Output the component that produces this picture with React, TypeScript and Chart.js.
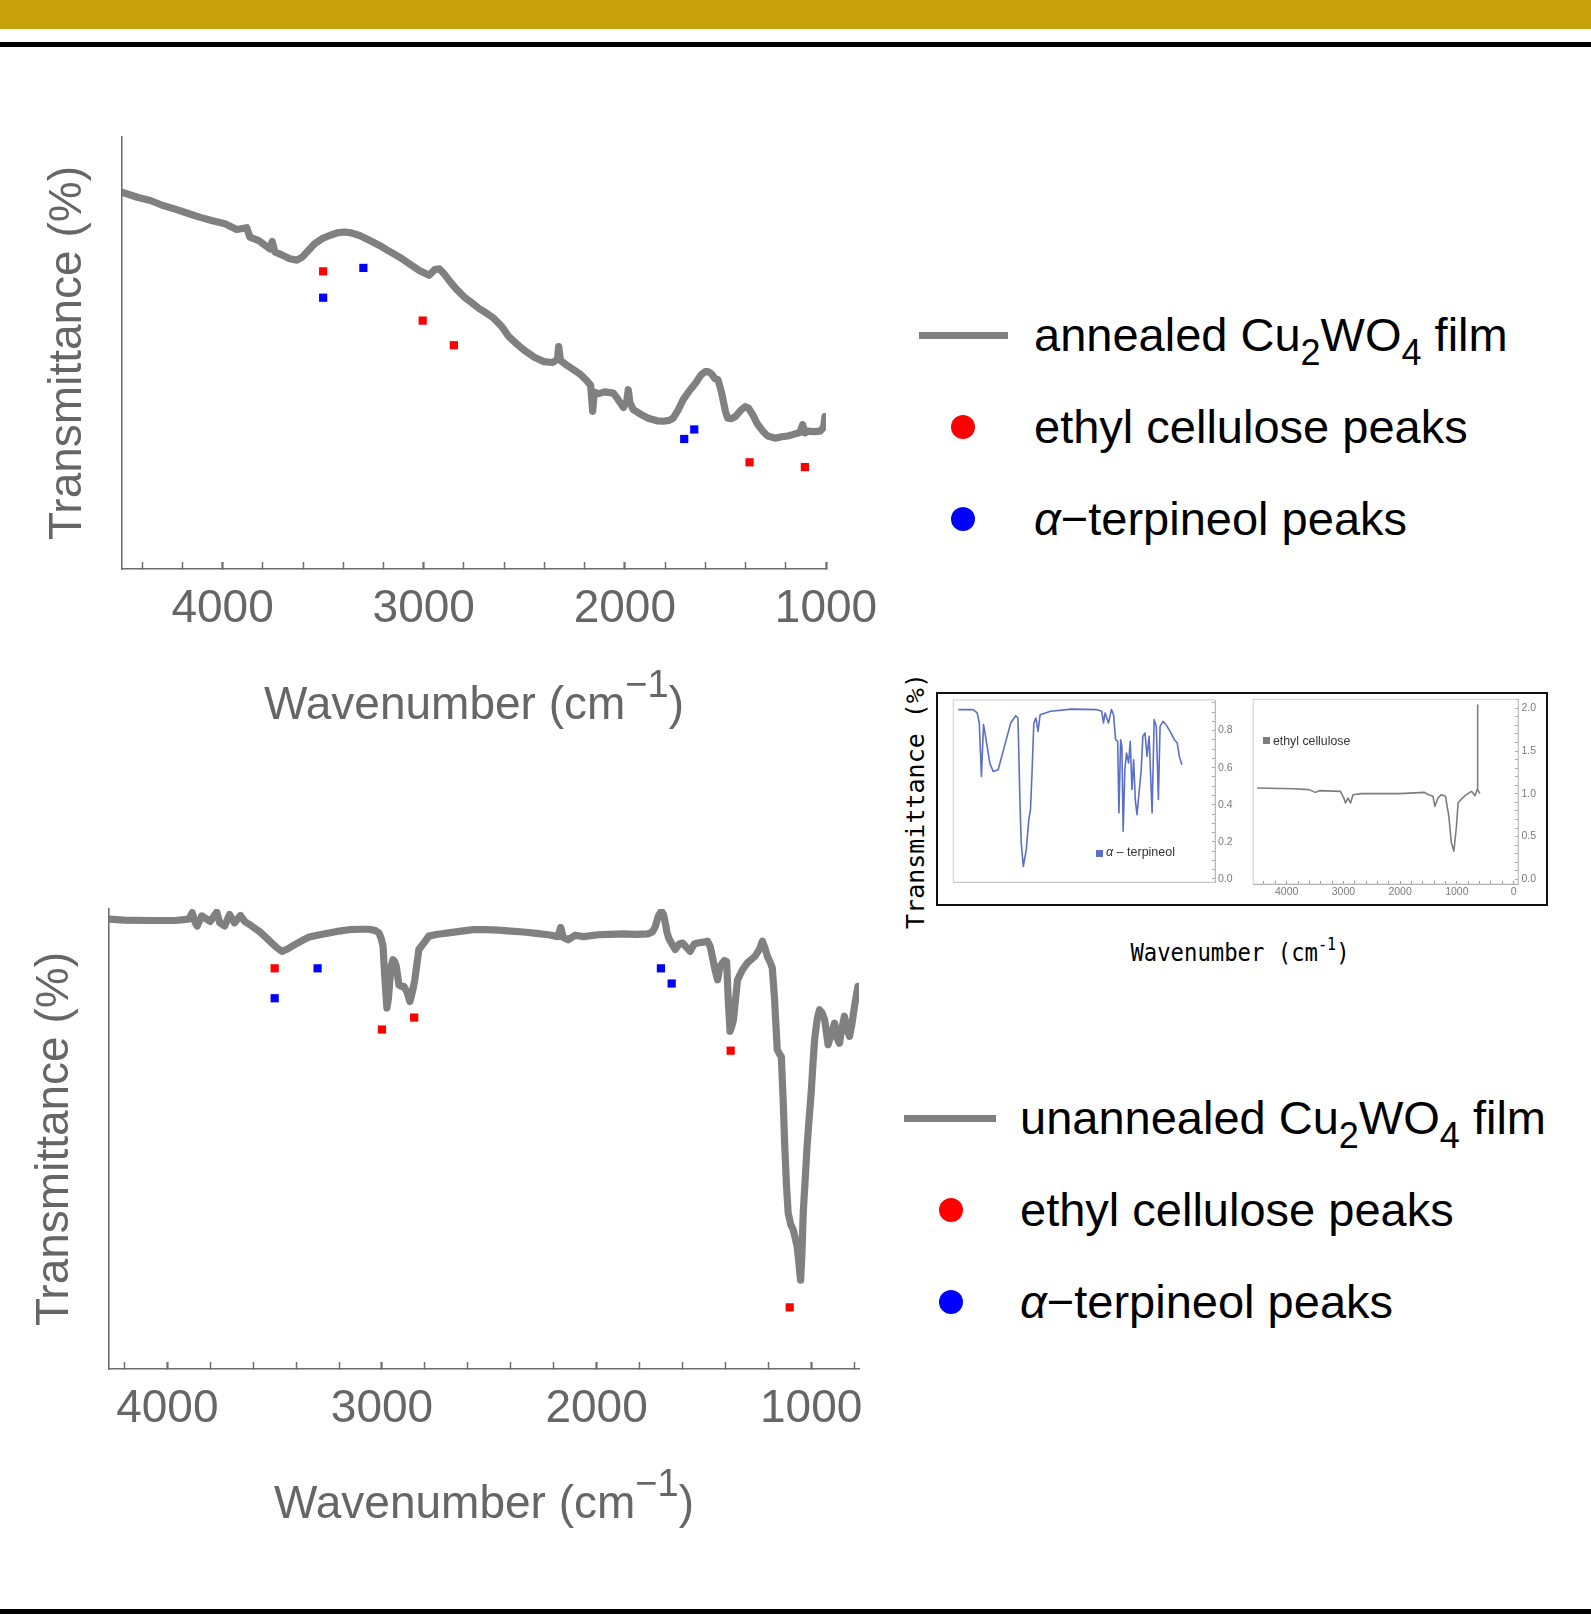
import React, { useEffect, useRef } from "react";
import { Chart, registerables } from "chart.js";

Chart.register(...registerables);

const SANS = "'Liberation Sans', Arial, Helvetica, sans-serif";
const MONO = "'DejaVu Sans Mono', monospace";

// ---------------- data ----------------
const mainTickLabels = [4000, 3000, 2000, 1000];
const insetXTickLabels = [4000, 3000, 2000, 1000, 0];
const terpineolYTickLabels = [0.0, 0.2, 0.4, 0.6, 0.8];
const celluloseYTickLabels = [0.0, 0.5, 1.0, 1.5, 2.0];

// annealed Cu2WO4 film (top panel)
const annealedWavenumber = [
  4497, 4420, 4359, 4300, 4235, 4170, 4111, 4050, 3988, 3930,
  3880, 3864, 3820, 3765, 3753, 3740, 3700, 3666, 3630, 3604,
  3570, 3542, 3500, 3468, 3430, 3394, 3360, 3319, 3270, 3220,
  3170, 3121, 3070, 3022, 2973, 2945, 2923, 2900, 2874, 2840,
  2800, 2760, 2725, 2690, 2651, 2610, 2577, 2540, 2502, 2450,
  2403, 2360, 2335, 2329, 2320, 2290, 2255, 2220, 2193, 2170,
  2160, 2152, 2131, 2100, 2057, 2035, 2007, 1990, 1983, 1975,
  1958, 1920, 1884, 1840, 1809, 1780, 1760, 1735, 1710, 1680,
  1649, 1620, 1600, 1587, 1570, 1550, 1537, 1520, 1500, 1488,
  1470, 1450, 1425, 1401, 1385, 1364, 1340, 1314, 1290, 1253,
  1220, 1190, 1166, 1130, 1116, 1105, 1092, 1060, 1030, 1012,
  1005,
];
const annealedTransmittance = [
  87.2, 86.0, 85.3, 84.2, 83.3, 82.3, 81.4, 80.6, 79.9, 78.6,
  79.0, 76.8, 76.0, 74.1, 75.8, 73.4, 72.6, 71.8, 71.5, 72.2,
  73.9, 75.3, 76.6, 77.2, 77.8, 78.0, 77.8, 77.2, 76.1, 74.9,
  73.5, 72.2, 70.6, 69.1, 68.0, 69.3, 69.5, 68.4, 66.8, 64.9,
  63.0, 61.6, 60.3, 59.3, 58.0, 56.0, 53.8, 52.2, 50.7, 49.0,
  48.0, 47.8, 48.5, 51.5, 48.3, 47.2, 46.1, 45.0, 43.8, 42.5,
  36.5, 40.9, 40.6, 41.0, 40.7, 39.3, 37.4, 39.0, 41.5, 38.5,
  36.9, 35.8, 34.9, 34.3, 34.2, 34.4, 34.9, 36.8, 39.2, 41.2,
  43.0, 45.0, 45.7, 45.7, 45.2, 44.0, 43.8, 41.0, 36.5, 34.9,
  34.8, 35.3, 36.7, 37.6, 37.2, 35.7, 33.5, 31.9, 30.8, 30.3,
  30.6, 30.8, 31.1, 31.6, 33.4, 31.5, 31.9, 31.8, 31.9, 32.8,
  35.3,
];
const annealedEthylWavenumber = [3500, 3005, 2850, 1380, 1105];
const annealedEthylT = [68.9, 57.5, 51.8, 24.7, 23.6];
const annealedTerpWavenumber = [3500, 3300, 1705, 1655];
const annealedTerpT = [62.8, 69.7, 30.1, 32.3];

// unannealed Cu2WO4 film (bottom panel)
const unannealedWavenumber = [
  4272, 4200, 4081, 3965, 3900, 3884, 3872, 3861, 3840, 3800,
  3770, 3756, 3733, 3710, 3687, 3660, 3640, 3610, 3571, 3540,
  3513, 3490, 3466, 3440, 3408, 3370, 3339, 3290, 3246, 3200,
  3153, 3100, 3060, 3030, 3014, 3003, 2995, 2986, 2977, 2970,
  2963, 2956, 2949, 2940, 2933, 2921, 2910, 2898, 2884, 2870,
  2858, 2847, 2828, 2805, 2782, 2740, 2689, 2630, 2573, 2520,
  2457, 2400, 2341, 2280, 2225, 2180, 2167, 2155, 2132, 2100,
  2060, 1993, 1940, 1877, 1820, 1761, 1740, 1726, 1712, 1698,
  1688, 1680, 1672, 1664, 1648, 1633, 1615, 1599, 1580, 1564,
  1545, 1529, 1500, 1483, 1470, 1459, 1448, 1436, 1425, 1413,
  1404, 1394, 1386, 1378, 1370, 1362, 1352, 1343, 1320, 1297,
  1262, 1240, 1227, 1215, 1204, 1190, 1181, 1170, 1158, 1145,
  1139, 1130, 1123, 1115, 1107, 1095, 1083, 1065, 1049, 1043,
  1037, 1028, 1019, 1010, 1000, 992, 984, 972, 961, 950,
  937, 921, 905, 891, 880, 868, 857, 845, 833, 821,
  810, 798, 790, 782,
];
const unannealedTransmittance = [
  97.8, 97.6, 97.5, 97.5, 97.8, 99.2, 97.2, 96.3, 98.5, 97.3,
  99.3, 97.0, 96.3, 98.8, 97.0, 98.6, 97.3, 96.4, 95.1, 93.8,
  92.6, 91.6, 90.8, 91.3, 92.2, 93.2, 93.9, 94.4, 94.8, 95.2,
  95.5, 95.6, 95.6, 95.3, 94.8, 93.5, 91.9, 84.6, 78.5, 80.5,
  84.6, 87.8, 89.0, 88.5, 87.5, 83.5, 83.2, 83.2, 82.0, 79.9,
  82.0, 84.6, 91.2, 92.6, 94.1, 94.5, 94.8, 95.2, 95.5, 95.5,
  95.4, 95.2, 95.0, 94.7, 94.4, 94.0, 96.0, 93.8, 93.3, 94.3,
  94.0, 94.4, 94.5, 94.6, 94.5, 94.6, 95.0, 96.2, 98.5, 99.5,
  98.8, 97.0, 95.0, 93.7, 92.3, 91.2, 92.4, 92.6, 91.6, 90.8,
  92.4, 92.6, 92.8, 93.0, 91.8, 89.3, 86.8, 84.6, 87.5, 88.3,
  88.8, 88.6, 80.0, 73.4, 74.5, 75.9, 80.5, 84.6, 86.8, 88.3,
  89.7, 91.3, 93.0, 91.5, 89.7, 88.3, 87.2, 80.0, 69.4, 68.3,
  67.9, 58.0, 48.4, 40.0, 33.9, 31.4, 30.2, 26.6, 19.3, 25.0,
  33.9, 41.0, 48.4, 54.0, 60.0, 66.0, 71.6, 76.0, 78.1, 77.5,
  75.9, 70.5, 73.0, 75.2, 72.0, 70.8, 74.0, 76.7, 74.0, 72.3,
  75.0, 78.8, 81.0, 83.2,
];
const unannealedEthylWavenumber = [3500, 3000, 2850, 1375, 1100];
const unannealedEthylT = [87.1, 73.8, 76.4, 69.2, 13.4];
const unannealedTerpWavenumber = [3500, 3300, 1700, 1650];
const unannealedTerpT = [80.6, 87.1, 87.1, 83.8];

// inset reference spectra
const terpineolRefWavenumber = [
  4000, 3767, 3700, 3667, 3633, 3600, 3567, 3500, 3447, 3367,
  3267, 3167, 3087, 3053, 3047, 3020, 3000, 2967, 2920, 2880,
  2853, 2827, 2800, 2767, 2733, 2700, 2533, 2200, 1800, 1720,
  1693, 1667, 1613, 1567, 1533, 1500, 1467, 1447, 1420, 1400,
  1380, 1353, 1327, 1293, 1267, 1240, 1213, 1187, 1160, 1133,
  1093, 1067, 1033, 1000, 967, 920, 887, 853, 820, 793,
  747, 700, 633, 567, 520, 487, 447,
];
const terpineolRefT = [
  0.913, 0.913, 0.895, 0.841, 0.553, 0.832, 0.769, 0.625, 0.58, 0.589,
  0.715, 0.841, 0.88, 0.868, 0.796, 0.41, 0.194, 0.068, 0.158, 0.32,
  0.374, 0.589, 0.841, 0.868, 0.796, 0.886, 0.904, 0.916, 0.913, 0.904,
  0.841, 0.895, 0.841, 0.913, 0.886, 0.751, 0.742, 0.356, 0.751, 0.715,
  0.257, 0.589, 0.679, 0.625, 0.742, 0.482, 0.643, 0.428, 0.347, 0.446,
  0.589, 0.769, 0.787, 0.661, 0.769, 0.356, 0.859, 0.823, 0.428, 0.823,
  0.85, 0.832, 0.796, 0.751, 0.733, 0.661, 0.616,
];
const ethylCelluloseRefWavenumber = [
  4520, 3867, 3607, 3496, 3422, 3052, 2993, 2963, 2919, 2874,
  2830, 2681, 2015, 1570, 1496, 1422, 1385, 1333, 1274, 1200,
  1141, 1096, 1052, 1007, 978, 904, 830, 741, 681, 644,
  636, 630, 593,
];
const ethylCelluloseRefT = [
  1.068, 1.06, 1.049, 1.017, 1.037, 1.029, 0.951, 0.893, 0.951, 0.893,
  0.99, 1.002, 1.002, 1.017, 0.99, 0.971, 0.854, 0.951, 0.99, 0.971,
  0.738, 0.427, 0.33, 0.621, 0.893, 0.951, 0.99, 1.029, 0.979, 1.049,
  2.039, 1.049, 1.002,
];

// ---------------- helpers ----------------
const pts = (xs: number[], ys: number[]) => xs.map((x, i) => ({ x, y: ys[i] }));
const isMultiple = (v: number, step: number) => Math.abs(v / step - Math.round(v / step)) < 1e-6;
const inList = (v: number, list: number[]) => list.some((l) => Math.abs(l - v) < 1e-6);

const xTitlePlugin = {
  id: "xTitle",
  afterDraw(chart: any, _args: any, opts: any) {
    if (!opts || !opts.text) return;
    const { ctx, chartArea } = chart;
    ctx.save();
    ctx.fillStyle = opts.color;
    ctx.textAlign = "left";
    ctx.textBaseline = "alphabetic";
    const mainFont = `${opts.size}px ${SANS}`;
    const supFont = `${opts.supSize}px ${SANS}`;
    ctx.font = mainFont;
    const w1 = ctx.measureText(opts.text).width;
    const w3 = ctx.measureText(opts.close).width;
    ctx.font = supFont;
    const w2 = ctx.measureText(opts.sup).width;
    let x = (chartArea.left + chartArea.right) / 2 - (w1 + w2 + w3) / 2;
    const y = chartArea.bottom + opts.offset;
    ctx.font = mainFont;
    ctx.fillText(opts.text, x, y);
    x += w1;
    ctx.font = supFont;
    ctx.fillText(opts.sup, x, y - opts.raise);
    x += w2;
    ctx.font = mainFont;
    ctx.fillText(opts.close, x, y);
    ctx.restore();
  },
};

const framePlugin = {
  id: "panelFrame",
  beforeDatasetsDraw(chart: any) {
    const { ctx, chartArea: a } = chart;
    ctx.save();
    ctx.strokeStyle = "#cfcfcf";
    ctx.lineWidth = 1;
    ctx.strokeRect(a.left, a.top, a.right - a.left, a.bottom - a.top);
    ctx.restore();
  },
};

function spectrumConfig(s: any) {
  return {
    type: "scatter",
    data: {
      datasets: [
        {
          label: "ethyl cellulose peaks",
          data: pts(s.redX, s.redY),
          pointStyle: "rect",
          pointRadius: 5.8,
          backgroundColor: "#ff0000",
          borderColor: "#ff0000",
          borderWidth: 0,
          showLine: false,
        },
        {
          label: "α-terpineol peaks",
          data: pts(s.blueX, s.blueY),
          pointStyle: "rect",
          pointRadius: 5.8,
          backgroundColor: "#0000ff",
          borderColor: "#0000ff",
          borderWidth: 0,
          showLine: false,
        },
        {
          label: s.lineLabel,
          data: pts(s.lineX, s.lineY),
          showLine: true,
          borderColor: "#808080",
          borderWidth: 7.2,
          pointRadius: 0,
          tension: 0,
          borderJoinStyle: "round",
          borderCapStyle: "round",
        },
      ],
    },
    options: {
      responsive: false,
      maintainAspectRatio: false,
      animation: false,
      events: [],
      layout: { padding: { left: 0, top: s.padT, right: s.padR, bottom: 0 } },
      plugins: {
        legend: { display: false },
        tooltip: { enabled: false },
        xTitle: {
          text: "Wavenumber (cm",
          sup: "\u22121",
          close: ")",
          size: 46,
          supSize: 38,
          raise: 22,
          offset: s.titleOffset,
          color: "#666666",
        },
      },
      scales: {
        x: {
          type: "linear",
          position: "bottom",
          min: s.xMin,
          max: s.xMax,
          reverse: true,
          afterBuildTicks: (sc: any) => {
            sc.ticks = sc.ticks.filter((t: any) => isMultiple(t.value, 200));
          },
          afterFit: (sc: any) => {
            sc.height = s.hx;
            sc.paddingLeft = 0;
            sc.paddingRight = 0;
          },
          ticks: {
            stepSize: 200,
            includeBounds: false,
            autoSkip: false,
            maxRotation: 0,
            minRotation: 0,
            padding: 19.4,
            color: "#666666",
            font: { family: SANS, size: 46 },
            callback: (v: number) => (inList(v, mainTickLabels) ? String(v) : ""),
          },
          grid: {
            display: true,
            drawOnChartArea: false,
            drawTicks: true,
            tickLength: -7,
            tickColor: "#6e6e6e",
            tickWidth: (c: any) => (c.tick && isMultiple(c.tick.value, 1000) ? 2.2 : 1.5),
          },
          border: { display: true, color: "#6e6e6e", width: 1.6 },
        },
        y: {
          type: "linear",
          position: "left",
          min: 0,
          max: 100,
          afterFit: (sc: any) => {
            sc.width = s.wy;
            sc.paddingTop = 0;
            sc.paddingBottom = 0;
          },
          ticks: { display: false },
          grid: { display: false },
          border: { display: true, color: "#6e6e6e", width: 1.6 },
          title: {
            display: true,
            text: "Transmittance (%)",
            color: "#666666",
            font: { family: SANS, size: 46 },
            padding: { top: s.yTitlePad, bottom: 0 },
          },
        },
      },
    },
    plugins: [xTitlePlugin],
  };
}

function insetConfig(s: any) {
  return {
    type: "scatter",
    data: {
      datasets: [
        {
          label: s.label,
          data: pts(s.xs, s.ys),
          showLine: true,
          borderColor: s.color,
          borderWidth: 1.6,
          pointRadius: 0,
          tension: 0,
          borderJoinStyle: "round",
        },
      ],
    },
    options: {
      responsive: false,
      maintainAspectRatio: false,
      animation: false,
      events: [],
      layout: { padding: { left: s.padL, top: s.padT, right: 0, bottom: 0 } },
      plugins: { legend: { display: false }, tooltip: { enabled: false } },
      scales: {
        x: {
          type: "linear",
          position: "bottom",
          min: s.xMin,
          max: s.xMax,
          reverse: true,
          afterBuildTicks: (sc: any) => {
            sc.ticks = sc.ticks.filter((t: any) => isMultiple(t.value, 200));
          },
          afterFit: (sc: any) => {
            sc.height = s.hx;
            sc.paddingLeft = 0;
            sc.paddingRight = 0;
          },
          ticks: {
            stepSize: 200,
            includeBounds: false,
            autoSkip: false,
            maxRotation: 0,
            minRotation: 0,
            padding: s.xPad,
            color: "#7a7a7a",
            font: { family: SANS, size: 10.5 },
            callback: (v: number) => (inList(v, insetXTickLabels) ? String(v) : ""),
          },
          grid: { display: true, drawOnChartArea: false, tickLength: -3, tickColor: "#9a9a9a", tickWidth: 1 },
          border: { display: true, color: "#9a9a9a", width: 1 },
        },
        y: {
          type: "linear",
          position: "right",
          min: s.yMin,
          max: s.yMax,
          afterBuildTicks: (sc: any) => {
            sc.ticks = sc.ticks.filter((t: any) => isMultiple(t.value, s.yStep));
          },
          afterFit: (sc: any) => {
            sc.width = s.wy;
            sc.paddingTop = 0;
            sc.paddingBottom = 0;
          },
          ticks: {
            stepSize: s.yStep,
            includeBounds: false,
            autoSkip: false,
            padding: s.yPad,
            color: "#7a7a7a",
            font: { family: SANS, size: 10.5 },
            callback: (v: number) => (inList(v, s.yLabels) ? v.toFixed(1) : ""),
          },
          grid: { display: true, drawOnChartArea: false, tickLength: -3, tickColor: "#a5a5a5", tickWidth: 1 },
          border: { display: true, color: "#a5a5a5", width: 1 },
        },
      },
    },
    plugins: [framePlugin],
  };
}

function ChartCanvas({ left, top, width, height, make }: any) {
  const ref = useRef<HTMLCanvasElement>(null);
  useEffect(() => {
    const chart = new Chart(ref.current as HTMLCanvasElement, make() as any);
    return () => chart.destroy();
  }, []);
  return (
    <canvas
      ref={ref}
      width={width}
      height={height}
      style={{ position: "absolute", left, top, width, height }}
    />
  );
}

function Txt({ left, baseline, size, children, family, color, style }: any) {
  return (
    <div
      style={{
        position: "absolute",
        left,
        top: baseline - 0.8465 * size,
        fontSize: size,
        lineHeight: `${size}px`,
        fontFamily: family || SANS,
        color: color || "#000",
        whiteSpace: "nowrap",
        ...style,
      }}
    >
      {children}
    </div>
  );
}

const subStyle: any = { fontSize: 36, position: "relative", top: 14 };

function Legend({ lineLeft, lineWidth, lineY, dotX, textLeft, rowY, filmLabel }: any) {
  const dot = (cx: number, cy: number, color: string) => (
    <div
      style={{
        position: "absolute",
        left: cx - 12,
        top: cy - 12,
        width: 24,
        height: 24,
        borderRadius: "50%",
        background: color,
      }}
    />
  );
  return (
    <>
      <div style={{ position: "absolute", left: lineLeft, top: lineY - 3.5, width: lineWidth, height: 7, background: "#808080" }} />
      <Txt left={textLeft} baseline={lineY + 16} size={47}>
        {filmLabel} Cu<span style={subStyle}>2</span>WO<span style={subStyle}>4</span> film
      </Txt>
      {dot(dotX, rowY[0], "#ff0000")}
      <Txt left={textLeft} baseline={rowY[0] + 16} size={47}>
        ethyl cellulose peaks
      </Txt>
      {dot(dotX, rowY[1], "#0000ff")}
      <Txt left={textLeft} baseline={rowY[1] + 16} size={47}>
        <i>α</i>−terpineol peaks
      </Txt>
    </>
  );
}

export default function App() {
  return (
    <div
      style={{
        position: "absolute",
        left: 0,
        top: 0,
        width: 1591,
        height: 1624,
        background: "#ffffff",
        overflow: "hidden",
        fontFamily: SANS,
      }}
    >
      <div style={{ position: "absolute", left: 0, top: 0, width: 1591, height: 29, background: "#c9a10c" }} />
      <div style={{ position: "absolute", left: 0, top: 42, width: 1591, height: 5, background: "#000" }} />
      <div style={{ position: "absolute", left: 0, top: 1609, width: 1591, height: 5, background: "#000" }} />

      {/* top panel: annealed */}
      <ChartCanvas
        left={0}
        top={100}
        width={900}
        height={680}
        make={() =>
          spectrumConfig({
            lineLabel: "annealed Cu2WO4 film",
            lineX: annealedWavenumber,
            lineY: annealedTransmittance,
            redX: annealedEthylWavenumber,
            redY: annealedEthylT,
            blueX: annealedTerpWavenumber,
            blueY: annealedTerpT,
            xMin: 1000,
            xMax: 4500,
            padT: 37,
            padR: 74,
            hx: 211,
            wy: 122,
            yTitlePad: 40.4,
            titleOffset: 150,
          })
        }
      />
      <Legend
        lineLeft={919}
        lineWidth={89}
        lineY={335}
        dotX={963}
        textLeft={1034}
        rowY={[427, 519]}
        filmLabel="annealed"
      />

      {/* bottom panel: unannealed */}
      <ChartCanvas
        left={0}
        top={870}
        width={900}
        height={700}
        make={() =>
          spectrumConfig({
            lineLabel: "unannealed Cu2WO4 film",
            lineX: unannealedWavenumber,
            lineY: unannealedTransmittance,
            redX: unannealedEthylWavenumber,
            redY: unannealedEthylT,
            blueX: unannealedTerpWavenumber,
            blueY: unannealedTerpT,
            xMin: 777,
            xMax: 4272,
            padT: 39,
            padR: 41,
            hx: 201,
            wy: 109,
            yTitlePad: 27.4,
            titleOffset: 149,
          })
        }
      />
      <Legend
        lineLeft={904}
        lineWidth={92}
        lineY={1118}
        dotX={951}
        textLeft={1020}
        rowY={[1210, 1302]}
        filmLabel="unannealed"
      />

      {/* inset: reference spectra */}
      <div
        style={{
          position: "absolute",
          left: 936,
          top: 692,
          width: 612,
          height: 214,
          border: "2px solid #111",
          boxSizing: "border-box",
        }}
      />
      <ChartCanvas
        left={940}
        top={696}
        width={300}
        height={206}
        make={() =>
          insetConfig({
            label: "α − terpineol",
            xs: terpineolRefWavenumber,
            ys: terpineolRefT,
            color: "#5b6fc8",
            xMin: -80,
            xMax: 4080,
            yMin: -0.018,
            yMax: 0.965,
            yStep: 0.05,
            yLabels: terpineolYTickLabels,
            padL: 13.3,
            padT: 4,
            hx: 19.7,
            wy: 25,
            xPad: 7.1,
            yPad: 6,
          })
        }
      />
      <ChartCanvas
        left={1240}
        top={696}
        width={306}
        height={206}
        make={() =>
          insetConfig({
            label: "ethyl cellulose",
            xs: ethylCelluloseRefWavenumber,
            ys: ethylCelluloseRefT,
            color: "#7d7d7d",
            xMin: -80,
            xMax: 4590,
            yMin: -0.054,
            yMax: 2.105,
            yStep: 0.1,
            yLabels: celluloseYTickLabels,
            padL: 13.2,
            padT: 3.3,
            hx: 18,
            wy: 27.9,
            xPad: 4.7,
            yPad: 6.4,
          })
        }
      />
      {/* inset legends */}
      <div style={{ position: "absolute", left: 1096, top: 850, width: 7, height: 7, background: "#5b6fc8" }} />
      <Txt left={1106} baseline={857} size={12.5} color="#333">
        <i>α</i> – terpineol
      </Txt>
      <div style={{ position: "absolute", left: 1263, top: 737, width: 7, height: 7, background: "#7d7d7d" }} />
      <Txt left={1273} baseline={745} size={12.3} color="#333">
        ethyl cellulose
      </Txt>
      {/* inset axis titles */}
      <div
        style={{
          position: "absolute",
          left: 914.5,
          top: 801,
          transform: "translate(-50%, -50%) rotate(-90deg)",
          fontFamily: MONO,
          fontSize: 25,
          lineHeight: "25px",
          whiteSpace: "nowrap",
          color: "#000",
        }}
      >
        Transmittance (%)
      </div>
      <div
        style={{
          position: "absolute",
          left: 1239.5,
          top: 961 - 21.15,
          transform: "translateX(-50%) scaleX(0.89)",
          fontFamily: MONO,
          fontSize: 25,
          lineHeight: "25px",
          whiteSpace: "nowrap",
          color: "#000",
        }}
      >
        Wavenumber (cm<span style={{ fontSize: 17, position: "relative", top: -11 }}>-1</span>)
      </div>
    </div>
  );
}
